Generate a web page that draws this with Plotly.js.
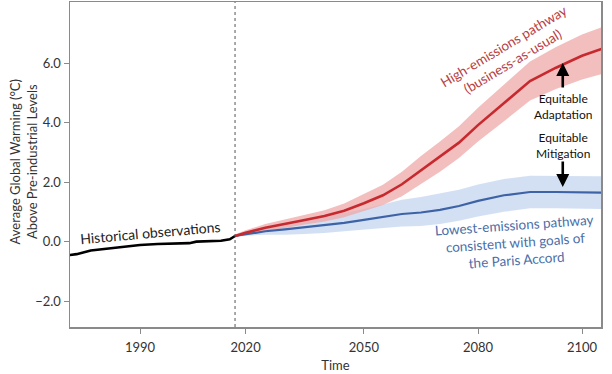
<!DOCTYPE html>
<html>
<head>
<meta charset="utf-8">
<script src="https://cdn.plot.ly/plotly-3.0.1.min.js"></script>
<style>html,body{margin:0;padding:0;background:#fff;}#chart{width:612px;height:374px;}</style>
</head>
<body>
<div id="chart"></div>
<script>
// ---- Data ----
const histYears  = [1970, 1972, 1976, 1980, 1986, 1990, 1995, 2000, 2004, 2006, 2010, 2013, 2015.5, 2017];
const histValues = [-0.45, -0.42, -0.30, -0.24, -0.17, -0.11, -0.08, -0.07, -0.05, 0.00, 0.02, 0.03, 0.08, 0.19];

const projYears = [2017, 2020, 2025, 2030, 2035, 2040, 2045, 2050, 2055, 2060, 2065, 2070, 2075, 2080, 2085, 2090, 2095, 2100, 2104];
const highMid   = [0.19, 0.30, 0.47, 0.59, 0.73, 0.86, 1.04, 1.29, 1.56, 1.93, 2.40, 2.85, 3.33, 3.92, 4.65, 5.40, 5.85, 6.25, 6.50];
const highUpper = [0.24, 0.38, 0.59, 0.74, 0.91, 1.06, 1.28, 1.59, 1.91, 2.35, 2.88, 3.37, 3.88, 4.50, 5.27, 6.06, 6.55, 6.97, 7.22];
const highLower = [0.15, 0.24, 0.37, 0.46, 0.58, 0.68, 0.82, 1.02, 1.23, 1.53, 1.95, 2.35, 2.81, 3.37, 4.05, 4.75, 5.13, 5.45, 5.65];
const lowMid    = [0.19, 0.25, 0.35, 0.41, 0.48, 0.54, 0.63, 0.73, 0.84, 0.93, 0.98, 1.07, 1.20, 1.37, 1.56, 1.67, 1.67, 1.65, 1.65];
const lowUpper  = [0.22, 0.33, 0.50, 0.61, 0.73, 0.84, 0.96, 1.10, 1.26, 1.41, 1.50, 1.62, 1.75, 1.92, 2.11, 2.22, 2.22, 2.20, 2.20];
const lowLower  = [0.17, 0.20, 0.23, 0.23, 0.26, 0.29, 0.35, 0.40, 0.46, 0.51, 0.53, 0.59, 0.70, 0.85, 1.01, 1.12, 1.12, 1.10, 1.10];

const tickYears  = [1990, 2020, 2050, 2080, 2100];
const tickLabels = ['1990', '2020', '2050', '2080', '2100'];
const yTicks     = [-2, 0, 2, 4, 6];
const todayYear  = 2017;

// ---- Time axis layout (the original time axis is drawn unevenly; reproduce it piecewise) ----
const anchorYears = [1970, 1990, 2020, 2050, 2080, 2100, 2104];
const anchorPos   = [69.6, 140, 245.6, 363.9, 478, 582, 602.8];
function pos(yr) {
  for (let i = 0; i < anchorYears.length - 1; i++) {
    if (yr <= anchorYears[i + 1] || i === anchorYears.length - 2) {
      const t = (yr - anchorYears[i]) / (anchorYears[i + 1] - anchorYears[i]);
      return anchorPos[i] + t * (anchorPos[i + 1] - anchorPos[i]);
    }
  }
}
const px = a => a.map(pos);

const FONT = 'Lato, "Open Sans", sans-serif';
const RED = '#c62a2f', RED_BAND = 'rgba(238,165,165,0.72)';
const BLUE = '#3d63a6', BLUE_BAND = 'rgba(196,213,240,0.75)';

const traces = [
  {x: px(projYears), y: lowLower, mode: 'lines', line: {width: 0}, hoverinfo: 'skip', showlegend: false},
  {x: px(projYears), y: lowUpper, mode: 'lines', line: {width: 0}, fill: 'tonexty', fillcolor: BLUE_BAND, hoverinfo: 'skip', showlegend: false},
  {x: px(projYears), y: highLower, mode: 'lines', line: {width: 0}, hoverinfo: 'skip', showlegend: false},
  {x: px(projYears), y: highUpper, mode: 'lines', line: {width: 0}, fill: 'tonexty', fillcolor: RED_BAND, hoverinfo: 'skip', showlegend: false},
  {x: px(projYears), y: lowMid, mode: 'lines', line: {color: BLUE, width: 2.2}, showlegend: false},
  {x: px(projYears), y: highMid, mode: 'lines', line: {color: RED, width: 2.6}, showlegend: false},
  {x: px(histYears), y: histValues, mode: 'lines', line: {color: '#000', width: 2.6}, showlegend: false}
];

const layout = {
  width: 612, height: 374,
  margin: {l: 70, r: 11, t: 2, b: 47},
  paper_bgcolor: '#fff', plot_bgcolor: '#fff',
  font: {family: FONT, size: 13, color: '#333'},
  showlegend: false,
  xaxis: {
    range: [70, 601], tickmode: 'array', tickvals: px(tickYears), ticktext: tickLabels,
    showgrid: false, zeroline: false, showline: true, mirror: true, linecolor: '#8a8a8a', linewidth: 1.5,
    ticks: 'outside', ticklen: 5, tickcolor: '#8a8a8a', ticklabelstandoff: 3, tickfont: {size: 13, color: '#333'},
    title: {text: 'Time', font: {size: 13, color: '#333'}, standoff: 7}
  },
  yaxis: {
    range: [-2.87, 8.06], tickmode: 'array', tickvals: yTicks, tickformat: '.1f',
    showgrid: false, zeroline: false, showline: true, mirror: true, linecolor: '#8a8a8a', linewidth: 1.5,
    ticks: 'outside', ticklen: 5, tickcolor: '#8a8a8a', tickfont: {size: 13, color: '#333'}
  },
  shapes: [
    {type: 'line', xref: 'x', yref: 'paper', x0: pos(todayYear), x1: pos(todayYear), y0: 0, y1: 1,
     line: {color: '#555', width: 1, dash: 'dot'}}
  ],
  annotations: [
    // y-axis title
    {xref: 'paper', yref: 'paper', x: -0.088, y: 0.51, xanchor: 'center', yanchor: 'middle',
     text: 'Average Global Warming (°C)<br>Above Pre-industrial Levels', textangle: -90, showarrow: false,
     font: {size: 13, color: '#333'}},
    {x: pos(1993), y: 0.3, xref: 'x', yref: 'y', text: 'Historical observations', showarrow: false,
     textangle: -5, font: {size: 14, color: '#222'}},
    {x: pos(2085.8), y: 6.31, xref: 'x', yref: 'y', text: 'High-emissions pathway<br>(business-as-usual)', showarrow: false,
     textangle: -31, font: {size: 13.5, color: '#b8403f'}},
    {x: pos(2087.3), y: -0.04, xref: 'x', yref: 'y', text: 'Lowest-emissions pathway<br>consistent with goals of<br>the Paris Accord', showarrow: false,
     textangle: -4, font: {size: 13.5, color: '#4a6ea8'}},
    {x: pos(2096.3), y: 4.56, xref: 'x', yref: 'y', text: 'Equitable<br>Adaptation', showarrow: false,
     font: {size: 12, color: '#111'}},
    {x: pos(2096.3), y: 3.25, xref: 'x', yref: 'y', text: 'Equitable<br>Mitigation', showarrow: false,
     font: {size: 12, color: '#111'}},
    {x: pos(2096.3), y: 6.01, xref: 'x', yref: 'y', text: '', showarrow: true, ax: 0, ay: 26,
     arrowhead: 2, arrowsize: 1, arrowwidth: 2.6, arrowcolor: '#000'},
    {x: pos(2096.3), y: 1.84, xref: 'x', yref: 'y', text: '', showarrow: true, ax: 0, ay: -27,
     arrowhead: 2, arrowsize: 1, arrowwidth: 2.6, arrowcolor: '#000'}
  ]
};

Plotly.newPlot('chart', traces, layout, {staticPlot: true, displayModeBar: false});
</script>
</body>
</html>
